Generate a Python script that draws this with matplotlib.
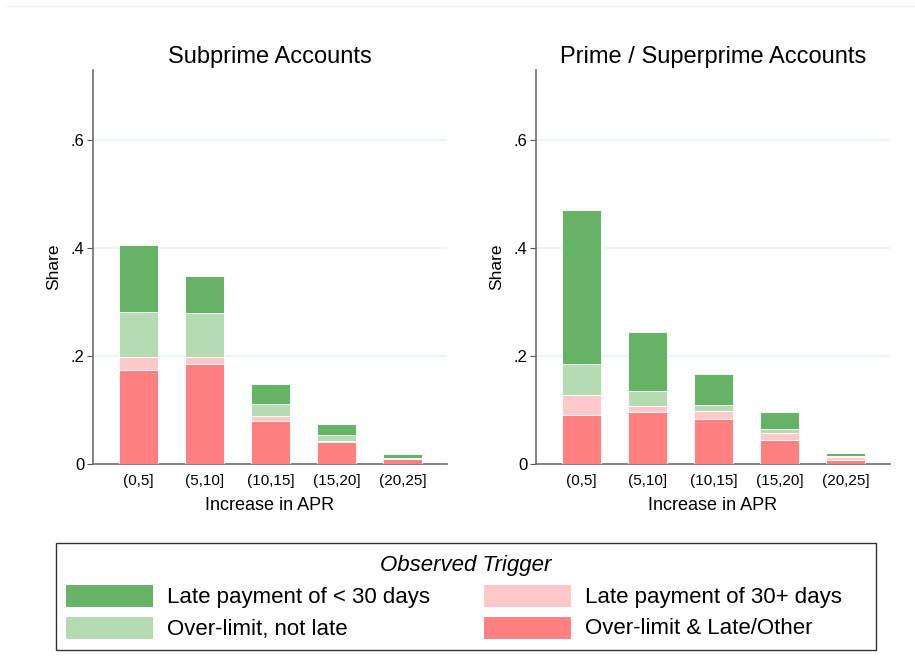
import matplotlib.pyplot as plt
from matplotlib.patches import Rectangle
from matplotlib.lines import Line2D

plt.rcParams['font.family'] = ['Liberation Sans', 'DejaVu Sans']

# APR increase buckets
bins = ['(0,5]', '(5,10]', '(10,15]', '(15,20]', '(20,25]']

# subprime shares by trigger (stacked bottom -> top)
sub_other = [0.174, 0.185, 0.080, 0.040, 0.010]
sub_late30 = [0.025, 0.014, 0.009, 0.003, 0.001]
sub_overlimit = [0.083, 0.081, 0.022, 0.010, 0.001]
sub_late_lt30 = [0.124, 0.069, 0.038, 0.021, 0.007]

# prime / superprime shares
prm_other = [0.091, 0.096, 0.083, 0.045, 0.008]
prm_late30 = [0.036, 0.012, 0.015, 0.013, 0.005]
prm_overlimit = [0.058, 0.027, 0.012, 0.006, 0.002]
prm_late_lt30 = [0.286, 0.110, 0.056, 0.032, 0.005]

labels = ['Late payment of < 30 days', 'Over-limit, not late',
          'Late payment of 30+ days', 'Over-limit & Late/Other']
c_dark = '#66b266'
c_lgreen = '#b4dbb2'
c_pink = '#ffc9c9'
c_red = '#ff8080'

fig = plt.figure(figsize=(9.15, 6.67), dpi=100)

panels = [
    ('Subprime Accounts', [sub_other, sub_late30, sub_overlimit, sub_late_lt30],
     [0.1016, 0.3043, 0.3869, 0.5907]),
    ('Prime / Superprime Accounts', [prm_other, prm_late30, prm_overlimit, prm_late_lt30],
     [0.5858, 0.3043, 0.3869, 0.5907]),
]

x = list(range(1, len(bins) + 1))
for title, series, rect in panels:
    ax = fig.add_axes(rect)
    bottom = [0.0] * len(bins)
    for vals, col in zip(series, [c_red, c_pink, c_lgreen, c_dark]):
        ax.bar(x, vals, width=0.59, bottom=bottom, color=col, edgecolor='white',
               linewidth=0.6, zorder=3)
        bottom = [b + v for b, v in zip(bottom, vals)]
    ax.set_xlim(0.31, 5.67)
    ax.set_ylim(0, 0.73)
    ax.set_yticks([0, 0.2, 0.4, 0.6])
    ax.set_yticklabels(['0', '.2', '.4', '.6'], fontsize=12)
    ax.set_xticks(x)
    ax.set_xticklabels(bins, fontsize=11)
    ax.tick_params(axis='x', length=0, pad=7)
    ax.tick_params(axis='y', length=4, width=0.8, color='#555555', pad=2)
    for yv in [0.2, 0.4, 0.6]:
        ax.axhline(yv, color='#eaf2f2', linewidth=1.2, zorder=1)
    for s in ['top', 'right']:
        ax.spines[s].set_visible(False)
    for s in ['left', 'bottom']:
        ax.spines[s].set_color('#6e6e6e')
        ax.spines[s].set_linewidth(1.2)
    ax.set_title(title, fontsize=17, pad=5)
    ax.set_xlabel('Increase in APR', fontsize=13, labelpad=7)
    ax.set_ylabel('Share', fontsize=12.5, labelpad=7)

# faint rule at top of figure
fig.add_artist(Line2D([5 / 915, 1], [1 - 6 / 667, 1 - 6 / 667], color='#eef2f2',
                      linewidth=1, transform=fig.transFigure))

# legend box drawn by hand
W, H = 915, 667
def fx(px):
    return px / W
def fy(py):
    return 1 - py / H

fig.add_artist(Rectangle((fx(56), fy(650)), fx(876) - fx(56), fy(543) - fy(650),
                         transform=fig.transFigure, fill=False,
                         edgecolor='#333333', linewidth=1.0))
fig.text(fx(466), fy(566), 'Observed Trigger', ha='center', va='center',
         fontsize=16, style='italic')

entries = [(66, 596, c_dark, labels[0]), (66, 628, c_lgreen, labels[1]),
           (484, 596, c_pink, labels[2]), (484, 628, c_red, labels[3])]
for px, py, col, lab in entries:
    fig.add_artist(Rectangle((fx(px), fy(py + 11)), fx(87), fy(0) - fy(22),
                             transform=fig.transFigure, facecolor=col,
                             edgecolor='none'))
    fig.text(fx(px + 101), fy(py + 1), lab, ha='left', va='center', fontsize=16)

fig.savefig('out.png', dpi=100)
